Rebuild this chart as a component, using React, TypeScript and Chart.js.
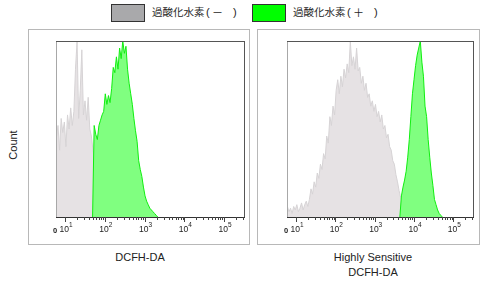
import React, { useEffect, useRef } from "react";
import { Chart, registerables } from "chart.js";

Chart.register(...registerables);

// ---- axis definition (log10 decades of fluorescence intensity) ----
const X_MIN = 0.77;
const X_MAX = 5.5;
const BIN = 0.04; // histogram bin width in decades
const majorDecades = [1, 2, 3, 4, 5];
const minorMultipliers = [2, 3, 4, 5, 6, 7, 8, 9];
const tickBase = "10";
const tickExponents = ["1", "2", "3", "4", "5"];
const zeroLabel = "0";

// ---- legend / titles ----
const seriesNames = ["過酸化水素", "過酸化水素"];
const seriesSigns = ["－", "＋"];
const yTitle = "Count";
const panelTitles = [["DCFH-DA"], ["Highly Sensitive", "DCFH-DA"]];

// ---- histogram counts (% of max) ----
const leftNegStart = 0.78;
const leftNegCounts = [
  45, 52, 38, 56, 48, 54, 40, 58, 50, 62, 52, 60, 84, 100, 56, 72, 95, 58, 66, 55,
  68, 50, 46, 38, 32, 25, 18, 12, 8, 5, 3, 1, 0,
];
const leftPosStart = 1.69;
const leftPosCounts = [
  0, 52, 47, 44, 52, 55, 58, 60, 70, 64, 69, 65, 73, 85, 82, 91, 84, 96, 90, 100,
  93, 97, 84, 76, 70, 64, 56, 49, 43, 32, 27, 23, 17, 12, 9, 7, 5, 4, 3, 2, 1, 0,
];
const rightNegStart = 0.78;
const rightNegCounts = [
  6, 3, 5, 2, 6, 4, 7, 3, 5, 8, 4, 7, 9, 6, 10, 16, 13, 20, 17, 25,
  22, 30, 27, 36, 33, 46, 42, 57, 52, 63, 58, 72, 78, 70, 80, 74, 84, 79, 87, 82,
  100, 86, 91, 84, 96, 83, 85, 76, 80, 72, 76, 68, 70, 63, 66, 60, 64, 57, 60, 54,
  58, 50, 52, 45, 47, 40, 38, 32, 30, 24, 20, 15, 11, 9, 6, 4, 3, 1, 0,
];
const rightPosStart = 3.64;
const rightPosCounts = [
  0, 12, 17, 21, 26, 34, 44, 57, 70, 78, 86, 92, 96, 100, 88, 80, 63, 57, 44, 34,
  25, 18, 10, 7, 4, 2, 1, 0,
];

const toPoints = (start: number, counts: number[]) =>
  counts.map((c, i) => ({ x: start + i * BIN, y: c }));

const tickFont = (px: number) => `${px}px "Liberation Sans", Arial, sans-serif`;

const axisPlugin = {
  id: "fcsAxis",
  afterDraw(chart: any) {
    const { ctx, chartArea: a, scales } = chart;
    const xs = scales.x;
    ctx.save();
    ctx.lineWidth = 1;
    // left edge
    ctx.strokeStyle = "#a8a8a8";
    ctx.beginPath();
    ctx.moveTo(a.left + 0.5, a.top);
    ctx.lineTo(a.left + 0.5, a.bottom);
    ctx.stroke();
    // top & right
    ctx.strokeStyle = "#555";
    ctx.beginPath();
    ctx.moveTo(a.left, a.top + 0.5);
    ctx.lineTo(a.right + 1, a.top + 0.5);
    ctx.moveTo(a.right + 0.5, a.top);
    ctx.lineTo(a.right + 0.5, a.bottom);
    ctx.stroke();
    // x axis line
    ctx.strokeStyle = "#333";
    ctx.beginPath();
    ctx.moveTo(a.left, a.bottom + 0.5);
    ctx.lineTo(a.right + 1, a.bottom + 0.5);
    ctx.stroke();
    // ticks
    const drawTick = (v: number, len: number) => {
      if (v < X_MIN || v > X_MAX) return;
      const px = Math.round(xs.getPixelForValue(v)) + 0.5;
      ctx.beginPath();
      ctx.moveTo(px, a.bottom);
      ctx.lineTo(px, a.bottom + len);
      ctx.stroke();
    };
    ctx.strokeStyle = "#444";
    majorDecades.forEach((d) => {
      drawTick(d, 5);
      minorMultipliers.forEach((m) => drawTick(d + Math.log10(m), 3));
    });
    // labels
    ctx.fillStyle = "#222";
    ctx.textBaseline = "alphabetic";
    ctx.textAlign = "left";
    majorDecades.forEach((d, i) => {
      const px = xs.getPixelForValue(d);
      ctx.font = tickFont(8.5);
      const w1 = ctx.measureText(tickBase).width;
      ctx.font = tickFont(6.5);
      const w2 = ctx.measureText(tickExponents[i]).width;
      const sx = px - (w1 + w2) / 2 + 1;
      ctx.font = tickFont(8.5);
      ctx.fillText(tickBase, sx, a.bottom + 15);
      ctx.font = tickFont(6.5);
      ctx.fillText(tickExponents[i], sx + w1, a.bottom + 10);
    });
    ctx.font = 'bold 7.5px "Liberation Sans", Arial, sans-serif';
    ctx.textAlign = "center";
    ctx.fillText(zeroLabel, xs.getPixelForValue(X_MIN) - 1, a.bottom + 16);
    ctx.restore();
  },
};

type PanelProps = {
  left: number;
  top: number;
  width: number;
  height: number;
  pad: { left: number; right: number; top: number; bottom: number };
  neg: { x: number; y: number }[];
  pos: { x: number; y: number }[];
};

function Panel({ left, top, width, height, pad, neg, pos }: PanelProps) {
  const ref = useRef<HTMLCanvasElement | null>(null);
  useEffect(() => {
    if (!ref.current) return;
    const chart = new Chart(ref.current, {
      type: "line",
      data: {
        datasets: [
          {
            data: pos,
            order: 0,
            borderColor: "#10ee10",
            backgroundColor: "#80ff80",
            borderWidth: 1,
            pointRadius: 0,
            tension: 0,
            fill: "origin",
          },
          {
            data: neg,
            order: 1,
            borderColor: "#d6d3d5",
            backgroundColor: "#e6e2e4",
            borderWidth: 1,
            pointRadius: 0,
            tension: 0,
            fill: "origin",
          },
        ],
      },
      options: {
        animation: false,
        responsive: false,
        devicePixelRatio: 1,
        events: [],
        layout: { padding: pad },
        scales: {
          x: { type: "linear", min: X_MIN, max: X_MAX, display: false },
          y: { type: "linear", min: 0, max: 100, display: false },
        },
        plugins: { legend: { display: false }, tooltip: { enabled: false } },
      },
      plugins: [axisPlugin],
    });
    return () => chart.destroy();
  }, []);
  return (
    <>
      <div
        style={{
          position: "absolute",
          left,
          top,
          width,
          height,
          border: "1px solid #b8b8b8",
          boxSizing: "border-box",
        }}
      />
      <canvas
        ref={ref}
        width={width}
        height={height}
        style={{ position: "absolute", left, top, width, height, display: "block" }}
      />
    </>
  );
}

const latin = '"Liberation Sans", Arial, sans-serif';
const cjk = '"Noto Sans CJK JP", "Noto Sans CJK SC", sans-serif';

function LegendItem({ x, color, name, sign }: { x: number; color: string; name: string; sign: string }) {
  return (
    <>
      <div
        style={{
          position: "absolute",
          left: x,
          top: 4,
          width: 34,
          height: 18,
          background: color,
          border: "1px solid #333",
          boxSizing: "border-box",
        }}
      />
      <div
        style={{
          position: "absolute",
          left: x + 41,
          top: 3,
          height: 18,
          lineHeight: "18px",
          fontFamily: cjk,
          fontSize: 10.5,
          color: "#1e1e1e",
          whiteSpace: "pre",
        }}
      >
        <span>{name}</span>
        <span style={{ position: "absolute", left: 54, fontFamily: latin, fontSize: 11 }}>(</span>
        <span style={{ position: "absolute", left: 60, fontSize: 11 }}>{sign}</span>
        <span style={{ position: "absolute", left: 81, fontFamily: latin, fontSize: 11 }}>)</span>
      </div>
    </>
  );
}

export default function App() {
  return (
    <div
      style={{
        position: "fixed",
        left: 0,
        top: 0,
        width: 485,
        height: 281,
        background: "#fff",
        overflow: "hidden",
      }}
    >
      <LegendItem x={111} color="#a9a9ab" name={seriesNames[0]} sign={seriesSigns[0]} />
      <LegendItem x={252} color="#00ff00" name={seriesNames[1]} sign={seriesSigns[1]} />
      <div
        style={{
          position: "absolute",
          left: 13,
          top: 145,
          transform: "translate(-50%, -50%) rotate(-90deg)",
          fontFamily: latin,
          fontSize: 11,
          color: "#222",
          whiteSpace: "nowrap",
        }}
      >
        {yTitle}
      </div>
      <Panel
        left={28}
        top={29}
        width={222}
        height={216}
        pad={{ left: 28, right: 6, top: 12, bottom: 28 }}
        neg={toPoints(leftNegStart, leftNegCounts)}
        pos={toPoints(leftPosStart, leftPosCounts)}
      />
      <Panel
        left={257}
        top={29}
        width={223}
        height={216}
        pad={{ left: 30, right: 7, top: 12, bottom: 28 }}
        neg={toPoints(rightNegStart, rightNegCounts)}
        pos={toPoints(rightPosStart, rightPosCounts)}
      />
      {panelTitles.map((lines, i) => (
        <div
          key={i}
          style={{
            position: "absolute",
            left: i === 0 ? 140 : 373,
            top: 250,
            transform: "translateX(-50%)",
            fontFamily: latin,
            fontSize: 11,
            lineHeight: "15px",
            color: "#222",
            textAlign: "center",
            whiteSpace: "nowrap",
          }}
        >
          {lines.map((l, j) => (
            <div key={j}>{l}</div>
          ))}
        </div>
      ))}
    </div>
  );
}
